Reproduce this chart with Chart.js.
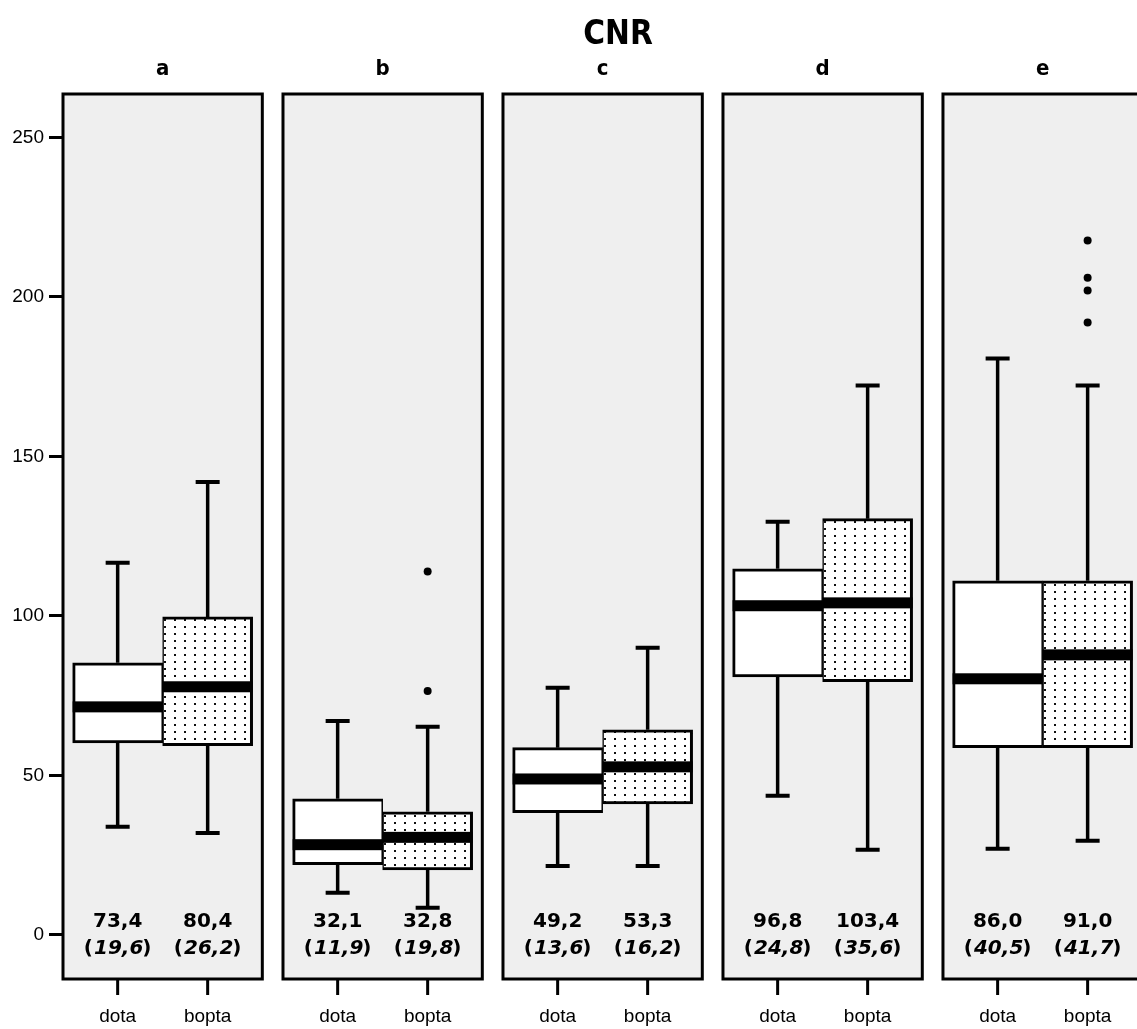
<!DOCTYPE html>
<html>
<head>
<meta charset="utf-8">
<title>CNR</title>
<script src="https://cdn.jsdelivr.net/npm/chart.js@4.4.1/dist/chart.umd.min.js"></script>
<style>
    html, body { margin: 0; padding: 0; background: #fff; overflow: hidden; }
    #wrap { position: relative; width: 1236px; height: 1029px; }
</style>
</head>
<body>
<div id="wrap"><canvas id="cnr"></canvas></div>
<script>
// Panels and groups
const panels = ['a', 'b', 'c', 'd', 'e'];
const groups = ['dota', 'bopta'];
const yTicks = [0, 50, 100, 150, 200, 250];

// dota box stats per panel
const dotaMin = [33.9, 13.2, 21.6, 43.6, 27.0];
const dotaQ1 = [60.2, 22.0, 38.3, 80.9, 58.7];
const dotaMedian = [71.5, 28.3, 48.9, 103.2, 80.3];
const dotaQ3 = [85.3, 42.7, 58.7, 114.8, 111.0];
const dotaMax = [116.7, 67.1, 77.5, 129.5, 180.7];
const dotaOutliers = [[], [], [], [], []];
const dotaMean = [73.4, 32.1, 49.2, 96.8, 86.0];
const dotaSD = [19.6, 11.9, 13.6, 24.8, 40.5];

// bopta box stats per panel
const boptaMin = [32.0, 8.5, 21.6, 26.7, 29.5];
const boptaQ1 = [59.3, 20.4, 41.1, 79.4, 58.7];
const boptaMedian = [77.8, 30.6, 52.7, 104.1, 87.8];
const boptaQ3 = [99.7, 38.6, 64.3, 130.5, 111.0];
const boptaMax = [142.0, 65.3, 90.0, 172.2, 172.2];
const boptaOutliers = [[], [113.9, 76.5], [], [], [217.7, 206.0, 202.0, 192.0]];
const boptaMean = [80.4, 32.8, 53.3, 103.4, 91.0];
const boptaSD = [26.2, 19.8, 16.2, 35.6, 41.7];

const stats = [
    { min: dotaMin, q1: dotaQ1, med: dotaMedian, q3: dotaQ3, max: dotaMax, out: dotaOutliers, mean: dotaMean, sd: dotaSD },
    { min: boptaMin, q1: boptaQ1, med: boptaMedian, q3: boptaQ3, max: boptaMax, out: boptaOutliers, mean: boptaMean, sd: boptaSD }
];

const PANEL_HALF = 0.453;   // half panel width, in panel units
const PANEL_BG = '#efefef';
const HEAD_FONT = '"DejaVu Sans Condensed", "Liberation Sans"';
const fmt = v => v.toFixed(1).replace('.', ',');

const canvas = document.getElementById('cnr');
const ctx = canvas.getContext('2d');

// dotted fill used by the bopta boxes
function makeDotPattern() {
    const c = document.createElement('canvas');
    c.width = 10;
    c.height = 7;
    const g = c.getContext('2d');
    g.fillStyle = '#fff';
    g.fillRect(0, 0, 10, 7);
    g.fillStyle = '#111';
    g.fillRect(4, 3, 2, 2);
    return ctx.createPattern(c, 'repeat');
}

// panel backgrounds, whiskers, medians, outliers, labels, frames
const boxPlotPlugin = {
    id: 'boxPlotPlugin',
    beforeDatasetsDraw(chart) {
        const { ctx, chartArea, scales: { x } } = chart;
        ctx.save();
        ctx.fillStyle = PANEL_BG;
        panels.forEach((p, i) => {
            const l = x.getPixelForValue(i - PANEL_HALF);
            const r = x.getPixelForValue(i + PANEL_HALF);
            ctx.fillRect(l, chartArea.top, r - l, chartArea.bottom - chartArea.top);
        });
        ctx.restore();
    },
    afterDatasetsDraw(chart) {
        const { ctx, chartArea, scales: { x, y } } = chart;
        ctx.save();
        ctx.strokeStyle = '#000';
        ctx.fillStyle = '#000';
        ctx.lineCap = 'butt';

        stats.forEach((s, d) => {
            const meta = chart.getDatasetMeta(d);
            meta.data.forEach((bar, i) => {
                const cx = bar.x;
                const w = bar.width;

                // whiskers
                ctx.lineWidth = 3.5;
                ctx.beginPath();
                ctx.moveTo(cx, y.getPixelForValue(s.q3[i]));
                ctx.lineTo(cx, y.getPixelForValue(s.max[i]));
                ctx.moveTo(cx, y.getPixelForValue(s.q1[i]));
                ctx.lineTo(cx, y.getPixelForValue(s.min[i]));
                ctx.stroke();
                ctx.lineWidth = 4;
                ctx.beginPath();
                [s.max[i], s.min[i]].forEach(v => {
                    const py = y.getPixelForValue(v);
                    ctx.moveTo(cx - 12, py);
                    ctx.lineTo(cx + 12, py);
                });
                ctx.stroke();

                // median band
                const my = y.getPixelForValue(s.med[i]);
                ctx.fillRect(cx - w / 2, my - 5.5, w, 11);

                // outliers
                s.out[i].forEach(v => {
                    ctx.beginPath();
                    ctx.arc(cx, y.getPixelForValue(v), 4, 0, Math.PI * 2);
                    ctx.fill();
                });

                // mean and (sd)
                ctx.textAlign = 'center';
                ctx.textBaseline = 'middle';
                ctx.font = 'bold 20px "DejaVu Sans"';
                ctx.fillText(fmt(s.mean[i]), cx, chartArea.bottom - 57);

                const sdText = fmt(s.sd[i]);
                const up = 'bold 20px "DejaVu Sans"';
                const it = 'italic bold 20px "DejaVu Sans"';
                ctx.font = up;
                const wl = ctx.measureText('(').width;
                const wr = ctx.measureText(')').width;
                ctx.font = it;
                const wn = ctx.measureText(sdText).width;
                const tx = cx - (wl + wn + wr) / 2;
                const ty = chartArea.bottom - 30;
                ctx.textAlign = 'left';
                ctx.font = up;
                ctx.fillText('(', tx, ty);
                ctx.font = it;
                ctx.fillText(sdText, tx + wl + 1, ty);
                ctx.font = up;
                ctx.fillText(')', tx + wl + wn, ty);

                // group tick and label below the panel
                ctx.lineWidth = 3;
                ctx.beginPath();
                ctx.moveTo(cx, chartArea.bottom);
                ctx.lineTo(cx, chartArea.bottom + 16);
                ctx.stroke();
                ctx.textAlign = 'center';
                ctx.font = '19px "Liberation Sans"';
                ctx.fillText(groups[d], cx, chartArea.bottom + 38);
            });
        });

        // panel frames
        ctx.lineWidth = 3;
        panels.forEach((p, i) => {
            const l = x.getPixelForValue(i - PANEL_HALF);
            const r = x.getPixelForValue(i + PANEL_HALF);
            ctx.strokeRect(l, chartArea.top, r - l, chartArea.bottom - chartArea.top);
        });
        ctx.restore();
    }
};

new Chart(canvas, {
    type: 'bar',
    data: {
        datasets: [
            {
                label: groups[0],
                data: panels.map((p, i) => ({ x: i, y: [dotaQ1[i], dotaQ3[i]] })),
                backgroundColor: '#fff',
                borderColor: '#000',
                borderWidth: { top: 3, bottom: 3, left: 3, right: 1.5 },
                borderSkipped: false
            },
            {
                label: groups[1],
                data: panels.map((p, i) => ({ x: i, y: [boptaQ1[i], boptaQ3[i]] })),
                backgroundColor: makeDotPattern(),
                borderColor: '#000',
                borderWidth: { top: 3, bottom: 3, left: 1.5, right: 3 },
                borderSkipped: false
            }
        ]
    },
    options: {
        responsive: true,
        maintainAspectRatio: false,
        animation: false,
        barThickness: 90,
        layout: { padding: { left: 0, right: 0, top: 0, bottom: 50 } },
        plugins: {
            legend: { display: false },
            tooltip: { enabled: false },
            title: {
                display: true,
                text: 'CNR',
                color: '#000',
                font: { family: HEAD_FONT, size: 33, weight: 'bold', lineHeight: 1.2 },
                padding: { top: 16, bottom: 0 }
            }
        },
        scales: {
            x: {
                type: 'linear',
                position: 'top',
                offset: false,
                min: -PANEL_HALF,
                max: 4.879,
                grid: { display: false },
                border: { display: false },
                afterBuildTicks: scale => { scale.ticks = panels.map((p, i) => ({ value: i })); },
                afterFit: scale => { scale.height = 94 - 55.6; },
                ticks: {
                    color: '#000',
                    padding: 4,
                    font: { family: HEAD_FONT, size: 22, weight: 'bold' },
                    callback: v => panels[v]
                }
            },
            y: {
                type: 'linear',
                min: -13.8,
                max: 263.6,
                border: { display: false },
                grid: { drawOnChartArea: false, drawTicks: true, tickLength: 14, tickWidth: 3, tickColor: '#000' },
                afterBuildTicks: scale => { scale.ticks = yTicks.map(v => ({ value: v })); },
                afterFit: scale => { scale.width = 63; },
                ticks: {
                    color: '#000',
                    padding: 5,
                    font: { family: '"Liberation Sans"', size: 19 },
                    callback: v => String(v)
                }
            }
        }
    },
    plugins: [boxPlotPlugin]
});
</script>
</body>
</html>
